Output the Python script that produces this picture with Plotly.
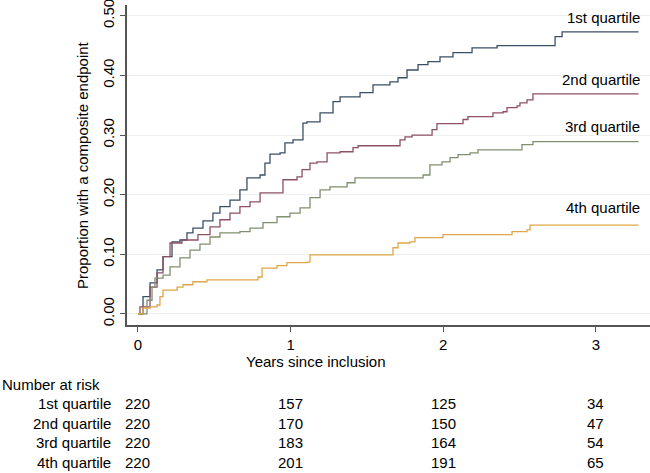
import plotly.graph_objects as go

# ---- data ----
q1_t = [0, 0.033, 0.079, 0.125, 0.164, 0.223, 0.275, 0.321, 0.360, 0.426, 0.491, 0.537, 0.603, 0.668,
        0.714, 0.800, 0.832, 0.865, 0.931, 0.963, 1.016, 1.081, 1.107, 1.193, 1.278, 1.324, 1.455, 1.540,
        1.651, 1.704, 1.763, 1.835, 1.900, 1.979, 2.064, 2.189, 2.353, 2.733, 2.779, 3.28]
q1_v = [0, 0.029, 0.052, 0.074, 0.096, 0.121, 0.124, 0.136, 0.144, 0.156, 0.169, 0.180, 0.191, 0.208,
        0.228, 0.233, 0.253, 0.268, 0.270, 0.287, 0.292, 0.320, 0.322, 0.337, 0.356, 0.364, 0.371, 0.384,
        0.389, 0.396, 0.409, 0.418, 0.423, 0.431, 0.438, 0.446, 0.450, 0.465, 0.473, 0.473]

q2_t = [0, 0.013, 0.079, 0.125, 0.164, 0.210, 0.288, 0.393, 0.472, 0.537, 0.603, 0.668, 0.734, 0.800,
        0.950, 1.042, 1.075, 1.127, 1.173, 1.239, 1.324, 1.409, 1.442, 1.717, 1.750, 1.796, 1.927, 1.959,
        2.130, 2.162, 2.326, 2.392, 2.418, 2.484, 2.503, 2.549, 2.588, 3.28]
q2_v = [0, 0.012, 0.045, 0.069, 0.096, 0.119, 0.124, 0.133, 0.146, 0.158, 0.169, 0.180, 0.188, 0.203,
        0.225, 0.230, 0.242, 0.253, 0.255, 0.270, 0.272, 0.279, 0.282, 0.292, 0.297, 0.300, 0.309, 0.319,
        0.326, 0.331, 0.337, 0.339, 0.346, 0.349, 0.354, 0.359, 0.369, 0.369]

q3_t = [0, 0.059, 0.092, 0.111, 0.164, 0.210, 0.275, 0.341, 0.406, 0.472, 0.537, 0.668, 0.734, 0.819,
        0.911, 0.996, 1.062, 1.127, 1.193, 1.258, 1.370, 1.422, 1.868, 1.913, 1.992, 2.045, 2.097, 2.176,
        2.228, 2.516, 2.588, 3.28]
q3_v = [0, 0.023, 0.045, 0.060, 0.065, 0.079, 0.094, 0.107, 0.117, 0.129, 0.136, 0.138, 0.144, 0.153,
        0.163, 0.169, 0.178, 0.195, 0.208, 0.213, 0.220, 0.228, 0.233, 0.250, 0.255, 0.262, 0.267, 0.270,
        0.275, 0.284, 0.289, 0.289]

q4_t = [0, 0.033, 0.079, 0.125, 0.144, 0.164, 0.256, 0.295, 0.360, 0.452, 0.786, 0.813, 0.911, 0.976,
        1.107, 1.127, 1.671, 1.704, 1.782, 1.815, 1.999, 2.451, 2.549, 2.569, 3.28]
q4_v = [0, 0.010, 0.012, 0.015, 0.029, 0.040, 0.045, 0.049, 0.054, 0.057, 0.062, 0.077, 0.081, 0.086,
        0.087, 0.099, 0.111, 0.119, 0.121, 0.128, 0.133, 0.138, 0.141, 0.149, 0.149]

group_names = ["1st quartile", "2nd quartile", "3rd quartile", "4th quartile"]
label_y = [0.497, 0.393, 0.314, 0.178]
risk_times = [0, 1, 2, 3]
risk_q1 = [220, 157, 125, 34]
risk_q2 = [220, 170, 150, 47]
risk_q3 = [220, 183, 164, 54]
risk_q4 = [220, 201, 191, 65]
y_ticks = [0.0, 0.1, 0.2, 0.3, 0.4, 0.5]
x_ticks = [0, 1, 2, 3]

colors = ["#3b4f66", "#8e5064", "#808f70", "#e0a64a"]
FONT = "Liberation Sans, Arial, Helvetica, sans-serif"

fig = go.Figure()
series = [(q1_t, q1_v), (q2_t, q2_v), (q3_t, q3_v), (q4_t, q4_v)]
for (t, v), c, n in zip(series, colors, group_names):
    fig.add_trace(go.Scatter(x=t, y=v, mode="lines", line=dict(color=c, width=1.3, shape="hv"),
                             name=n, showlegend=False, hoverinfo="skip"))

ann = []
for n, y in zip(group_names, label_y):
    ann.append(dict(x=3.30, y=y, xref="x", yref="y", text=n, showarrow=False,
                    xanchor="right", yanchor="middle", font=dict(size=15, color="black")))

# axis titles
ann.append(dict(x=-0.086, y=0.5, xref="paper", yref="paper", text="Proportion with a composite endpoint",
                textangle=-90, showarrow=False, xanchor="center", yanchor="middle",
                font=dict(size=15, color="black")))

def py(pix):
    return -(pix - 325) / 320.0

ann.append(dict(x=1.166, y=py(361), xref="x", yref="paper", text="Years since inclusion",
                showarrow=False, xanchor="center", yanchor="middle", font=dict(size=15, color="black")))

# number at risk table
ann.append(dict(x=-127 / 523.0, y=py(384), xref="paper", yref="paper", text="Number at risk",
                showarrow=False, xanchor="left", yanchor="middle", font=dict(size=15, color="black")))
rows = [risk_q1, risk_q2, risk_q3, risk_q4]
row_pix = [403, 423, 442, 462]
for n, r, rp in zip(group_names, rows, row_pix):
    ann.append(dict(x=-14 / 523.0, y=py(rp), xref="paper", yref="paper", text=n, showarrow=False,
                    xanchor="right", yanchor="middle", font=dict(size=15, color="black")))
    for t, val in zip(risk_times, r):
        ann.append(dict(x=t, y=py(rp), xref="x", yref="paper", text=str(val), showarrow=False,
                        xanchor="center", yanchor="middle", font=dict(size=15, color="black")))

fig.update_layout(
    width=650, height=473,
    margin=dict(l=127, r=0, t=5, b=148, autoexpand=False),
    paper_bgcolor="white", plot_bgcolor="white",
    font=dict(family=FONT, size=15, color="black"),
    annotations=ann,
    showlegend=False,
)
fig.update_xaxes(range=[-0.072, 3.355], tickvals=x_ticks, ticktext=[str(x) for x in x_ticks],
                 automargin=False, ticklabeloverflow="allow",
                 showgrid=False, zeroline=False, showline=True, linecolor="#555555", linewidth=1.5,
                 ticks="outside", ticklen=5, tickcolor="#555555", tickwidth=1.3,
                 tickfont=dict(size=15, color="black"))
fig.update_yaxes(range=[-0.0185, 0.518], tickvals=y_ticks, tickformat=".2f",
                 automargin=False, ticklabeloverflow="allow",
                 showgrid=True, gridcolor="#eeeeee", gridwidth=1, zeroline=False,
                 showline=True, linecolor="#555555", linewidth=1.5,
                 ticks="outside", ticklen=5, tickcolor="#555555", tickwidth=1.3, tickangle=-90,
                 tickfont=dict(size=15, color="black"))

fig.write_html("out.html", config={"displayModeBar": False},
               post_script="document.body.style.margin='0';document.body.style.overflow='hidden';")
